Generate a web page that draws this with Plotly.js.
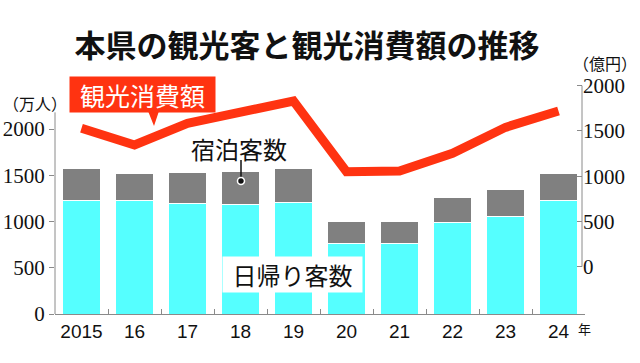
<!DOCTYPE html>
<html>
<head>
<meta charset="utf-8">
<script src="https://cdn.plot.ly/plotly-3.0.1.min.js"></script>
<style>html,body{margin:0;padding:0;background:#fff;}#chart{width:640px;height:363px;}</style>
</head>
<body>
<div id="chart"></div>
<script>
// ---- data ----
const years = ["2015", "16", "17", "18", "19", "20", "21", "22", "23", "24"];
const dayTrips = [1228, 1225, 1196, 1189, 1203, 760, 760, 987, 1055, 1228];      // 万人
const overnight = [343, 295, 332, 357, 371, 245, 238, 274, 292, 292];            // 万人
const spending = [1529, 1345, 1585, 1713, 1831, 1050, 1057, 1253, 1540, 1720];   // 億円
const leftTicks = [0, 500, 1000, 1500, 2000];
const rightTicks = [0, 500, 1000, 1500, 2000];

// ---- layout helpers (pixel -> paper) ----
const M = {l: 55, r: 55, t: 80, b: 49};
const W = 640, H = 363;
const PW = W - M.l - M.r, PH = H - M.t - M.b;
const px = x => (x - M.l) / PW;
const py = y => (H - M.b - y) / PH;

const JP = 'Noto Sans CJK JP, Noto Sans, sans-serif';
const SERIF = 'Liberation Serif, DejaVu Serif, serif';
const SERIFJP = 'Liberation Serif, Noto Sans CJK JP, serif';
const RED = '#ff3311';
const AX = '#8a8a8a';

const traces = [
  {type: 'bar', x: years, y: dayTrips, name: '日帰り客数',
   marker: {color: '#55ffff', line: {color: '#ffffff', width: 1}}},
  {type: 'bar', x: years, y: overnight, name: '宿泊客数',
   marker: {color: '#808080', line: {color: '#ffffff', width: 1}}},
  {type: 'scatter', mode: 'lines', x: years, y: spending, yaxis: 'y2', name: '観光消費額',
   line: {color: RED, width: 9}}
];

const tri = `M ${px(148)} ${py(111)} L ${px(159)} ${py(111)} L ${px(154)} ${py(126)} Z`;

const layout = {
  width: W, height: H,
  margin: M,
  paper_bgcolor: '#fff', plot_bgcolor: '#fff',
  showlegend: false,
  barmode: 'stack', bargap: 0.3,
  title: {text: '本県の観光客と観光消費額の推移', x: 307 / W, xanchor: 'center',
          y: 1 - 46 / H, yanchor: 'middle',
          font: {family: JP, size: 31, color: '#111', weight: 'bold'}},
  xaxis: {type: 'category', range: [-0.5, 9.5], showline: true, linecolor: AX, linewidth: 1,
          ticks: 'inside', tickson: 'boundaries', ticklen: 5, tickcolor: AX, tickangle: 0,
          showgrid: false, zeroline: false, fixedrange: true,
          tickfont: {family: 'Liberation Sans Narrow, Liberation Sans, sans-serif', size: 19, color: '#111'}},
  yaxis: {range: [0, PH / 0.0925], tickvals: leftTicks, ticktext: leftTicks.map(String),
          ticks: 'outside', ticklen: 5, tickcolor: AX, showline: false, showgrid: false,
          zeroline: false, fixedrange: true,
          tickfont: {family: SERIF, size: 21, color: '#111'}},
  yaxis2: {overlaying: 'y', side: 'right', anchor: 'free', position: px(582),
           range: [-(H - M.b - 266.7) / 0.0905, (266.7 - M.t) / 0.0905],
           tickvals: rightTicks, ticktext: rightTicks.map(String),
           ticks: 'inside', ticklen: 5, tickcolor: AX, showline: false, showgrid: false,
           zeroline: false, fixedrange: true,
           tickfont: {family: SERIF, size: 21, color: '#111'}},
  shapes: [
    {type: 'line', xref: 'paper', yref: 'y', x0: 0, x1: 0, y0: 0, y1: 2180, line: {color: AX, width: 1}},
    {type: 'line', xref: 'paper', yref: 'y2', x0: px(582), x1: px(582), y0: 0, y1: 2000, line: {color: AX, width: 1}},
    {type: 'path', xref: 'paper', yref: 'paper', path: tri, fillcolor: RED, line: {width: 0}},
    {type: 'line', xref: 'paper', yref: 'paper', x0: px(241), x1: px(241), y0: py(160), y1: py(181), line: {color: '#111', width: 1.5}},
    {type: 'circle', xref: 'paper', yref: 'paper', x0: px(237.5), x1: px(244.5), y0: py(177.5), y1: py(184.5),
     fillcolor: '#111', line: {color: '#fff', width: 1.5}}
  ],
  annotations: [
    {xref: 'paper', yref: 'paper', x: px(142.5), y: py(94.5), xanchor: 'center', yanchor: 'middle',
     text: '観光消費額', showarrow: false, bgcolor: RED, width: 145, height: 35, borderpad: 0,
     font: {family: JP, size: 25, color: '#fff'}},
    {xref: 'paper', yref: 'paper', x: px(239), y: py(148), xanchor: 'center', yanchor: 'middle',
     text: '宿泊客数', showarrow: false, font: {family: JP, size: 24, color: '#111'}},
    {xref: 'paper', yref: 'paper', x: px(292.5), y: py(274), xanchor: 'center', yanchor: 'middle',
     text: '日帰り客数', showarrow: false, bgcolor: '#fff', width: 139, height: 35, borderpad: 0,
     font: {family: JP, size: 24, color: '#111'}},
    {xref: 'paper', yref: 'paper', x: px(1), y: py(105), xanchor: 'left', yanchor: 'middle',
     text: '（万人）', showarrow: false, font: {family: SERIFJP, size: 16, color: '#111'}},
    {xref: 'paper', yref: 'paper', x: px(639), y: py(64), xanchor: 'right', yanchor: 'middle',
     text: '（億円）', showarrow: false, font: {family: SERIFJP, size: 16, color: '#111'}},
    {xref: 'paper', yref: 'paper', x: px(576), y: py(328), xanchor: 'left', yanchor: 'middle',
     text: '年', showarrow: false, font: {family: JP, size: 13, color: '#111'}}
  ]
};

Plotly.newPlot('chart', traces, layout, {staticPlot: true, displayModeBar: false});
</script>
</body>
</html>
